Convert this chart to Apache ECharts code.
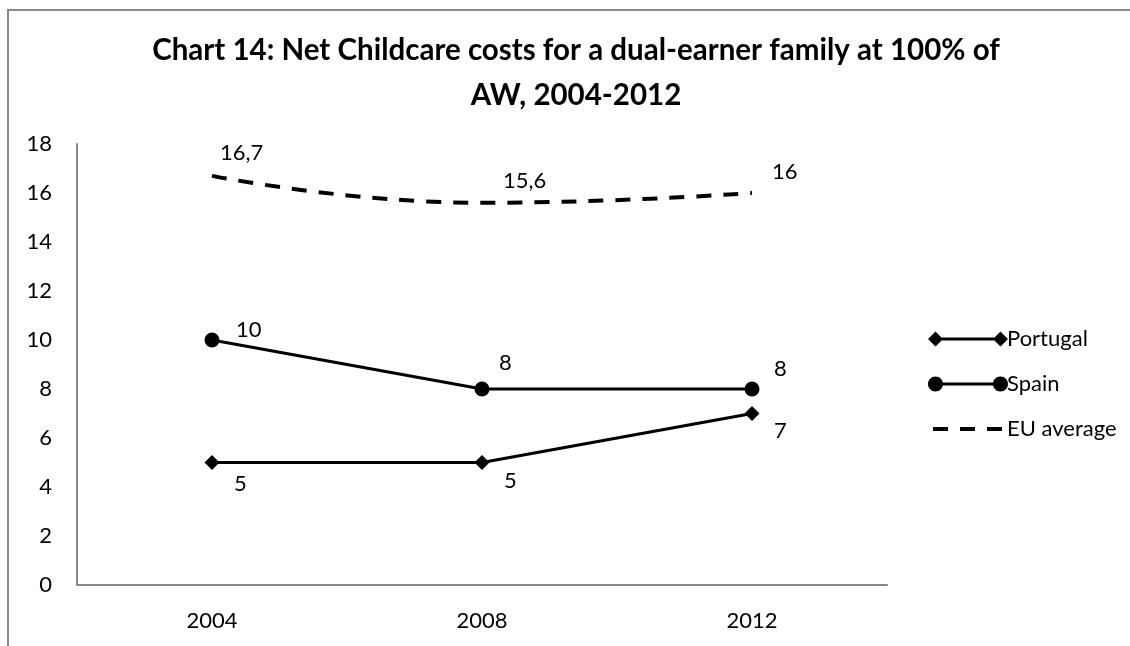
<!DOCTYPE html>
<html>
<head>
<meta charset="utf-8">
<script src="https://cdn.jsdelivr.net/npm/echarts@6/dist/echarts.min.js"></script>
<style>
html,body{margin:0;padding:0;background:#fff;}
#chart{width:1130px;height:646px;}
</style>
</head>
<body>
<div id="chart"></div>
<script>
const titleText = 'Chart 14: Net Childcare costs for a dual-earner family at 100% of\nAW, 2004-2012';
const years = ['2004', '2008', '2012'];
const portugal = [5, 5, 7];
const spain = [10, 8, 8];
const euAverage = [16.7, 15.6, 16];
const yTicks = { min: 0, max: 18, interval: 2 };

// label placement (style only, not data)
const portugalLabelOffsets = [[14.5, 21], [14.5, 18], [14.5, 17]];
const spainLabelOffsets = [[16.5, -10], [9.5, -26], [14.5, -20]];
const euLabelOffsets = [[7, -23], [20, -22], [19, -21]];

const FONT = 'Lato';
const FS = 22;
const chart = echarts.init(document.getElementById('chart'));

const fmtComma = p => String(p.value).replace('.', ',');
const withOffsets = (vals, offs) => vals.map((v, i) => ({ value: v, label: { offset: offs[i] } }));

const iconPortugal = 'path://M0,8 L7.5,0.5 L15,8 L7.5,15.5 Z M7,6.5 L73,6.5 L73,9.5 L7,9.5 Z M65,8 L72.5,0.5 L80,8 L72.5,15.5 Z';
const iconSpain = 'path://M0,8 C0,3.86 3.36,0.5 7.5,0.5 C11.64,0.5 15,3.86 15,8 C15,12.14 11.64,15.5 7.5,15.5 C3.36,15.5 0,12.14 0,8 Z M7,6.5 L73,6.5 L73,9.5 L7,9.5 Z M65,8 C65,3.86 68.36,0.5 72.5,0.5 C76.64,0.5 80,3.86 80,8 C80,12.14 76.64,15.5 72.5,15.5 C68.36,15.5 65,12.14 65,8 Z';
const iconEU = 'path://M0,0 M80,16 M5,6 L20,6 L20,10 L5,10 Z M32,6 L47,6 L47,10 L32,10 Z M59,6 L74,6 L74,10 L59,10 Z';

const option = {
  backgroundColor: '#fff',
  animation: false,
  title: {
    text: titleText,
    left: 571,
    textAlign: 'center',
    top: 23,
    textStyle: { fontFamily: FONT, fontWeight: 'bold', fontSize: 29.5, color: '#000', lineHeight: 45 }
  },
  graphic: [{
    type: 'rect', shape: { x: 8, y: 10, width: 1200, height: 700 },
    style: { fill: 'none', stroke: '#898989', lineWidth: 2 }, silent: true, z: -1
  }],
  legend: {
    orient: 'vertical',
    left: 923,
    top: 323,
    itemWidth: 80,
    itemHeight: 16,
    itemGap: 23,
    itemStyle: { color: '#000', borderWidth: 0, opacity: 1 },
    textStyle: { fontFamily: FONT, fontSize: FS, color: '#000', padding: [0, 0, 0, -6] },
    data: [
      { name: 'Portugal', icon: iconPortugal },
      { name: 'Spain', icon: iconSpain },
      { name: 'EU average', icon: iconEU, itemStyle: { color: '#000', opacity: 1 } }
    ]
  },
  grid: { left: 77, right: 243, top: 144, bottom: 61, containLabel: false },
  xAxis: {
    type: 'category',
    data: years,
    boundaryGap: true,
    axisLine: { lineStyle: { color: '#898989', width: 2 } },
    axisTick: { show: false },
    axisLabel: { fontFamily: FONT, fontSize: FS, color: '#000', margin: 25 }
  },
  yAxis: {
    type: 'value',
    min: yTicks.min, max: yTicks.max, interval: yTicks.interval,
    axisLine: { show: true, lineStyle: { color: '#898989', width: 2 } },
    axisTick: { show: false },
    splitLine: { show: false },
    axisLabel: { fontFamily: FONT, fontSize: FS, color: '#000', margin: 25 }
  },
  series: [
    {
      name: 'Portugal', type: 'line', data: withOffsets(portugal, portugalLabelOffsets),
      symbol: 'diamond', symbolSize: 15,
      lineStyle: { color: '#000', width: 3 },
      itemStyle: { color: '#000' },
      label: { show: true, position: 'right', distance: 0, fontFamily: FONT, fontSize: FS, color: '#000' }
    },
    {
      name: 'Spain', type: 'line', data: withOffsets(spain, spainLabelOffsets),
      symbol: 'circle', symbolSize: 15,
      lineStyle: { color: '#000', width: 3 },
      itemStyle: { color: '#000' },
      label: { show: true, position: 'right', distance: 0, fontFamily: FONT, fontSize: FS, color: '#000' }
    },
    {
      name: 'EU average', type: 'line', data: withOffsets(euAverage, euLabelOffsets),
      smooth: true, showSymbol: true, symbol: 'circle', symbolSize: 2,
      lineStyle: { color: '#000', width: 4, type: [15, 12] },
      itemStyle: { color: 'rgba(0,0,0,0)', borderWidth: 0 },
      label: { show: true, position: 'right', distance: 0, fontFamily: FONT, fontSize: FS, color: '#000', formatter: fmtComma }
    }
  ]
};
chart.setOption(option);
</script>
</body>
</html>
